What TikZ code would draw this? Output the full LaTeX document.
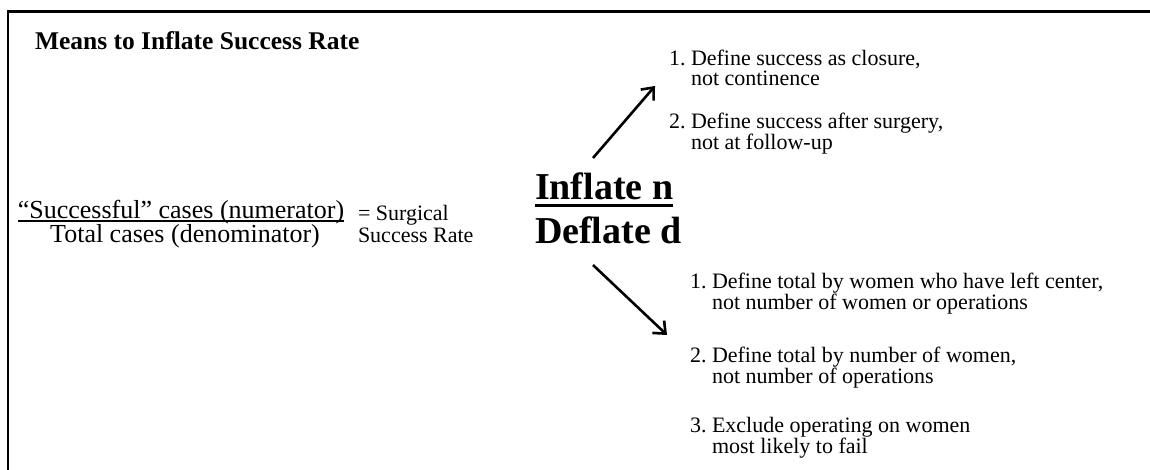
\documentclass[tikz,border=0pt]{standalone}
\usepackage{fontspec}
\setmainfont{Liberation Serif}
\usetikzlibrary{arrows.meta}
\begin{document}
\begin{tikzpicture}[x=1pt,y=-1pt,
  every node/.style={inner sep=0pt, outer sep=0pt},
  titletext/.style={anchor=base west, font=\fontsize{25.5}{25.5}\selectfont\bfseries},
  fractext/.style={anchor=base, font=\fontsize{26}{24}\selectfont},
  ratetext/.style={anchor=base west, font=\fontsize{22}{22}\selectfont},
  bigtext/.style={anchor=base west, font=\fontsize{38}{38}\selectfont\bfseries},
  listitem/.style={anchor=base west, font=\fontsize{22}{20}\selectfont},
  arr/.style={line width=2.6pt, -{Straight Barb[length=10pt,width=17pt]}},
  frameline/.style={line width=2.5pt}]
\useasboundingbox (0,0) rectangle (1150,469);
\draw[frameline] (8,472) -- (8,11.5) -- (1153,11.5);
\node[titletext] (title) at (35,49) {Means to Inflate Success Rate};
\node[fractext] (num) at (181,218) {“Successful” cases (numerator)};
\draw[line width=1.5pt] ([yshift=-3pt]num.base west) -- ([yshift=-3pt]num.base east);
\node[fractext] (den) at (185,242) {Total cases (denominator)};
\node[ratetext] (rate) at (358,220) {\begin{tabular}[t]{@{}l@{}}= Surgical\\Success Rate\end{tabular}};
\node[bigtext] (inflate) at (535,199) {Inflate n};
\draw[line width=3pt] ([yshift=-6.5pt]inflate.base west) -- ([yshift=-6.5pt]inflate.base east);
\node[bigtext] (deflate) at (535,243) {Deflate d};
\node[listitem] (u1) at (669,65) {\begin{tabular}[t]{@{}l@{}}1.\ Define success as closure,\\\phantom{1.\ }not continence\end{tabular}};
\node[listitem] (u2) at (669,128) {\begin{tabular}[t]{@{}l@{}}2.\ Define success after surgery,\\\phantom{2.\ }not at follow-up\end{tabular}};
\node[listitem] (l1) at (690,288) {\begin{tabular}[t]{@{}l@{}}1.\ Define total by women who have left center,\\\phantom{1.\ }not number of women or operations\end{tabular}};
\node[listitem] (l2) at (690,362) {\begin{tabular}[t]{@{}l@{}}2.\ Define total by number of women,\\\phantom{2.\ }not number of operations\end{tabular}};
\node[listitem] (l3) at (690,432) {\begin{tabular}[t]{@{}l@{}}3.\ Exclude operating on women\\\phantom{3.\ }most likely to fail\end{tabular}};
\coordinate (upS) at (593,158);
\coordinate (upE) at (655,86);
\coordinate (dnS) at (593,265);
\coordinate (dnE) at (667,335);
\draw[arr] (upS) -- (upE);
\draw[arr] (dnS) -- (dnE);
\end{tikzpicture}
\end{document}
